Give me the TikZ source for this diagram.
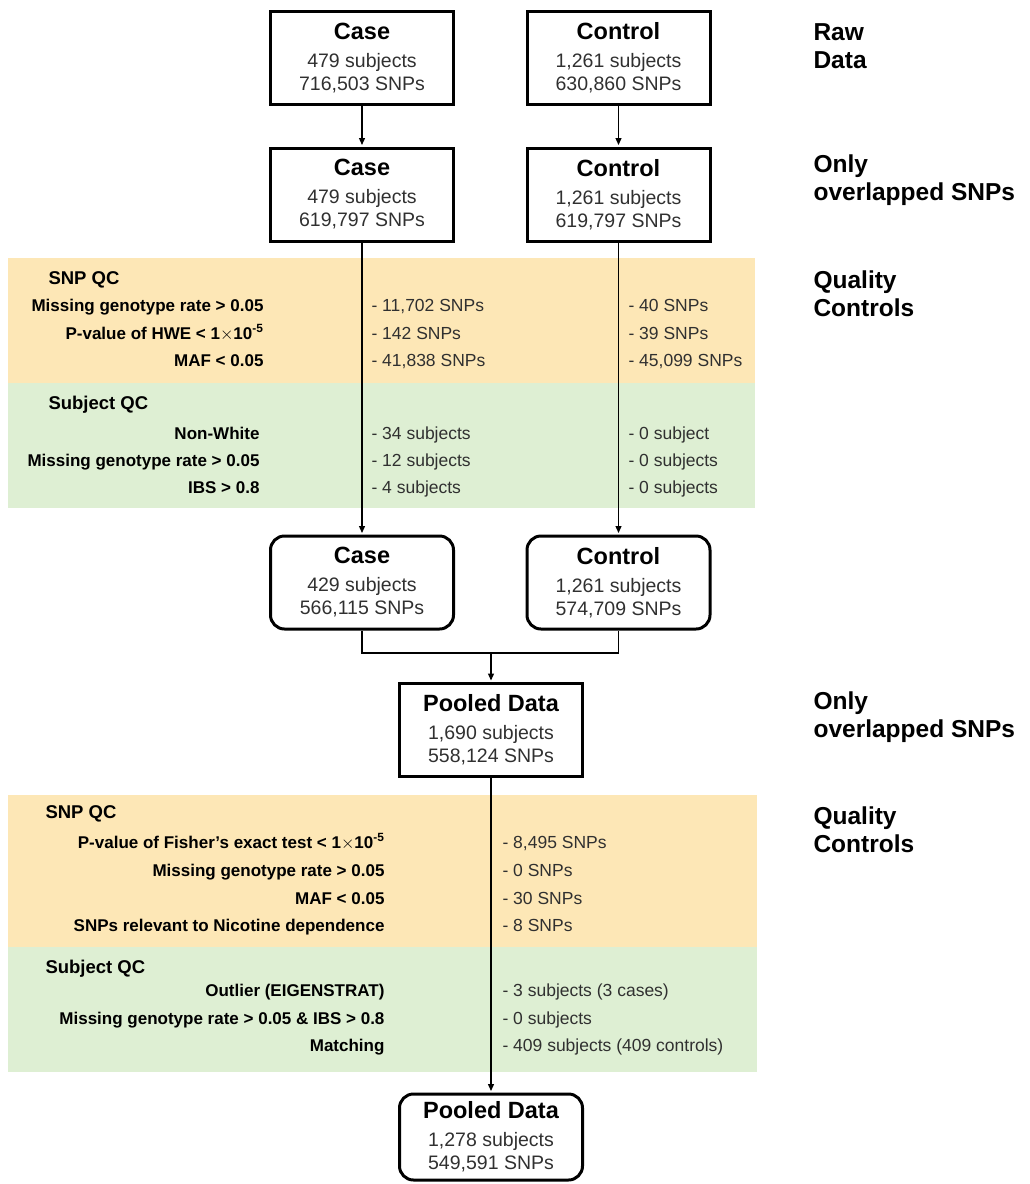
\documentclass[tikz,border=0pt]{standalone}
\usepackage{fontspec}
\setmainfont{Liberation Sans}
\usetikzlibrary{positioning, arrows.meta, calc}
\definecolor{snpbg}{HTML}{FDE7B6}
\definecolor{subjbg}{HTML}{DEEFD3}
\definecolor{txtgray}{HTML}{303030}
\newcommand{\boxtitle}[1]{{\color{black}\fontsize{23.5}{28}\selectfont\bfseries #1}}
\tikzset{
  data box/.style={
    draw=black,
    line width=3pt,
    minimum width=183pt,
    minimum height=93pt,
    align=center,
    inner sep=0pt,
    text=txtgray,
    font=\fontsize{19.5}{23}\selectfont
  },
  final box/.style={data box, rounded corners=14pt},
  flow/.style={-{Triangle[length=7pt,width=6pt]}, line width=1.3pt, shorten >=1.5pt},
  link/.style={line width=1.3pt},
  stage label/.style={anchor=west, align=left, font=\fontsize{24.5}{28}\selectfont\bfseries},
  qc head/.style={anchor=base west, yshift=-6.5pt, font=\fontsize{18.5}{22}\selectfont\bfseries},
  qc rule/.style={anchor=base east, yshift=-6pt, font=\fontsize{17}{20}\selectfont\bfseries},
  qc count/.style={anchor=base west, yshift=-6pt, text=txtgray, font=\fontsize{17.5}{20}\selectfont}
}

\begin{document}
\begin{tikzpicture}[x=1pt, y=-1pt]
  \useasboundingbox (0,0) rectangle (1030,1184);

  % QC bands
  \fill[snpbg] (8,258) rectangle (755,383);
  \fill[subjbg] (8,383) rectangle (755,508);
  \fill[snpbg] (8,795) rectangle (757,947);
  \fill[subjbg] (8,947) rectangle (757,1072);

  % Raw data
  \node[data box] (caseraw) at (362,58) {\boxtitle{Case}\\[5pt]479 subjects\\716,503 SNPs};
  \node[data box] (ctrlraw) at (618.5,58) {\boxtitle{Control}\\[5pt]1,261 subjects\\630,860 SNPs};

  % Overlapped SNPs
  \node[data box] (caseov) at (362,194.5) {\boxtitle{Case}\\[5pt]479 subjects\\619,797 SNPs};
  \node[data box] (ctrlov) at (618.5,194.5) {\boxtitle{Control}\\[5pt]1,261 subjects\\619,797 SNPs};

  % After QC
  \node[final box] (casefin) at (362,582.5) {\boxtitle{Case}\\[5pt]429 subjects\\566,115 SNPs};
  \node[final box] (ctrlfin) at (618.5,582.5) {\boxtitle{Control}\\[5pt]1,261 subjects\\574,709 SNPs};

  % Pooled
  \node[data box] (pool) at (491,730) {\boxtitle{Pooled Data}\\[5pt]1,690 subjects\\558,124 SNPs};
  \node[final box, minimum height=86pt] (poolfin) at (491,1137) {\boxtitle{Pooled Data}\\[5pt]1,278 subjects\\549,591 SNPs};

  % Stage labels
  \node[stage label] (lraw) at (810,46) {Raw\\Data};
  \node[stage label] (lov1) at (810,180) {Only\\overlapped SNPs};
  \node[stage label] (lqc1) at (810,294) {Quality\\Controls};
  \node[stage label] (lov2) at (810,717.5) {Only\\overlapped SNPs};
  \node[stage label] (lqc2) at (810,830) {Quality\\Controls};

  % First SNP QC
  \node[qc head] (snph1) at (45,278) {SNP QC};
  \node[qc rule] (sr11) at (267,305) {Missing genotype rate > 0.05};
  \node[qc rule] (sr12) at (267,333) {P-value of HWE < 1$\times$10\textsuperscript{-5}};
  \node[qc rule] (sr13) at (267,360) {MAF < 0.05};
  \node[qc count] (sa11) at (368,305) {- 11,702 SNPs};
  \node[qc count] (sa12) at (368,333) {- 142 SNPs};
  \node[qc count] (sa13) at (368,360) {- 41,838 SNPs};
  \node[qc count] (sb11) at (625,305) {- 40 SNPs};
  \node[qc count] (sb12) at (625,333) {- 39 SNPs};
  \node[qc count] (sb13) at (625,360) {- 45,099 SNPs};

  % First subject QC
  \node[qc head] (subh1) at (45,403) {Subject QC};
  \node[qc rule] (ur11) at (263,433) {Non-White};
  \node[qc rule] (ur12) at (263,460) {Missing genotype rate > 0.05};
  \node[qc rule] (ur13) at (263,487) {IBS > 0.8};
  \node[qc count] (ua11) at (368,433) {- 34 subjects};
  \node[qc count] (ua12) at (368,460) {- 12 subjects};
  \node[qc count] (ua13) at (368,487) {- 4 subjects};
  \node[qc count] (ub11) at (625,433) {- 0 subject};
  \node[qc count] (ub12) at (625,460) {- 0 subjects};
  \node[qc count] (ub13) at (625,487) {- 0 subjects};

  % Second SNP QC
  \node[qc head] (snph2) at (42,812) {SNP QC};
  \node[qc rule] (sr21) at (388,842) {P-value of Fisher’s exact test < 1$\times$10\textsuperscript{-5}};
  \node[qc rule] (sr22) at (388,870) {Missing genotype rate > 0.05};
  \node[qc rule] (sr23) at (388,898) {MAF < 0.05};
  \node[qc rule] (sr24) at (388,925) {SNPs relevant to Nicotine dependence};
  \node[qc count] (sa21) at (499,842) {- 8,495 SNPs};
  \node[qc count] (sa22) at (499,870) {- 0 SNPs};
  \node[qc count] (sa23) at (499,898) {- 30 SNPs};
  \node[qc count] (sa24) at (499,925) {- 8 SNPs};

  % Second subject QC
  \node[qc head] (subh2) at (42,967) {Subject QC};
  \node[qc rule] (ur21) at (388,990) {Outlier (EIGENSTRAT)};
  \node[qc rule] (ur22) at (388,1018) {Missing genotype rate > 0.05 \& IBS > 0.8};
  \node[qc rule] (ur23) at (388,1045) {Matching};
  \node[qc count] (ua21) at (499,990) {- 3 subjects (3 cases)};
  \node[qc count] (ua22) at (499,1018) {- 0 subjects};
  \node[qc count] (ua23) at (499,1045) {- 409 subjects (409 controls)};

  % Connectors
  \draw[flow] (caseraw) -- (caseov);
  \draw[flow] (ctrlraw) -- (ctrlov);
  \draw[flow] (caseov) -- (casefin);
  \draw[flow] (ctrlov) -- (ctrlfin);
  \coordinate (merge) at (491,653);
  \draw[link] (casefin.south) |- (merge) -| (ctrlfin.south);
  \draw[flow] (merge) -- (pool);
  \draw[flow] (pool) -- (poolfin);

\end{tikzpicture}
\end{document}
